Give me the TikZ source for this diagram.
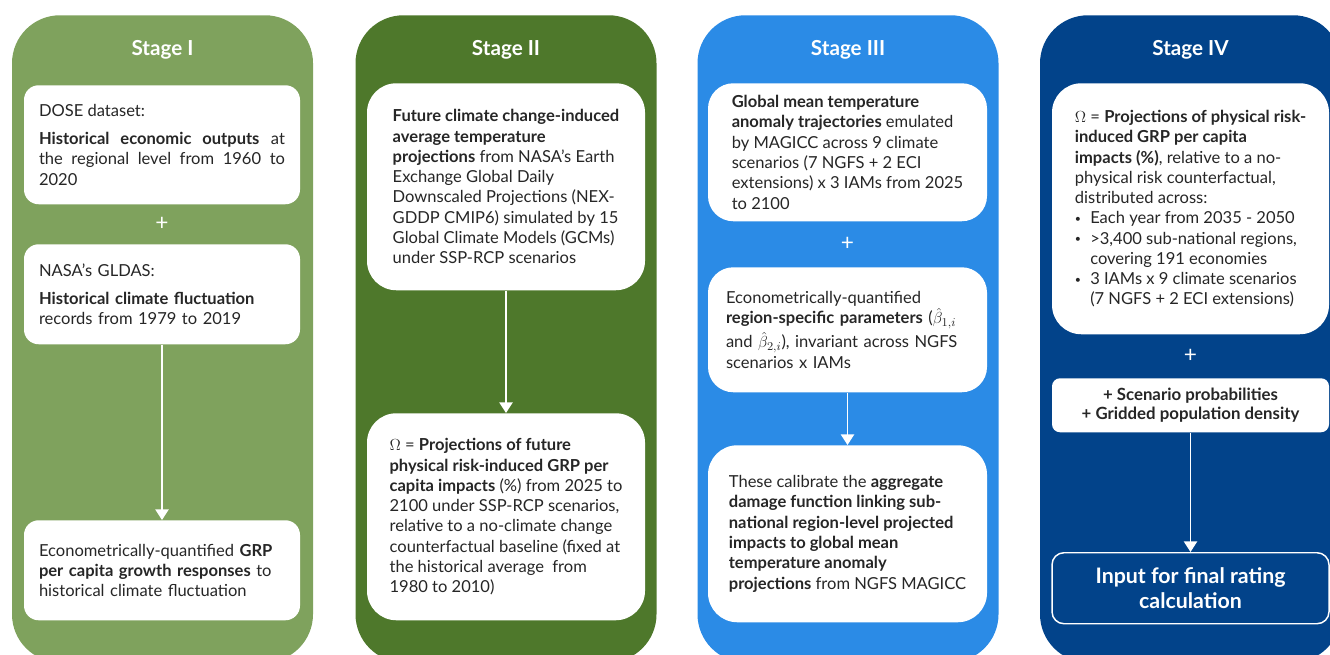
\documentclass[tikz,border=0pt]{standalone}
\usepackage{fontspec}
\setmainfont{Lato}
\usepackage{amsmath}
\usepackage{tikz}
\usetikzlibrary{arrows.meta,positioning,calc}
\definecolor{StageOne}{HTML}{7FA25D}
\definecolor{StageTwo}{HTML}{4E782B}
\definecolor{StageThree}{HTML}{2B8BE6}
\definecolor{StageFour}{HTML}{02438A}
\definecolor{TextGrey}{HTML}{262626}
\newcommand{\listdot}{\makebox[11.5pt][l]{\raisebox{0.15ex}{\fontsize{8}{8}\selectfont\textbullet}}}
\newcommand{\listgap}{\hspace*{11.5pt}}
\tikzset{
  stagecol/.style={rounded corners=36pt, minimum width=301*0.75pt, minimum height=647*0.75pt, anchor=north, inner sep=0pt},
  stagetitle/.style={text=white, font=\fontsize{15.5}{18}\selectfont\bfseries},
  infobox/.style={fill=white, rounded corners=11pt, align=left, inner sep=0pt, anchor=north, text=TextGrey, font=\fontsize{12.4}{15.2}\selectfont},
  stageonebox/.style={infobox, text width=184.5pt, inner xsep=11.25pt},
  plussign/.style={text=white, font=\fontsize{17}{17}\selectfont, inner sep=0pt},
  outputbox/.style={fill=StageFour, draw=white, line width=1.1pt, rounded corners=9pt, align=center, inner sep=0pt, anchor=north, text=white, font=\fontsize{16}{18.75}\selectfont\bfseries},
  arrow/.style={-{Triangle[width=10pt,length=8pt]}, line width=1.1pt, draw=white}
}
\begin{document}
\begin{tikzpicture}[x=0.75pt, y=-0.75pt]
  \useasboundingbox (0,0) rectangle (1330,655);
  \clip (0,0) rectangle (1330,655);
  % stage columns
  \node[stagecol, fill=StageOne] (col1) at (162.5,15) {};
  \node[stagecol, fill=StageTwo] (col2) at (506,15) {};
  \node[stagecol, fill=StageThree] (col3) at (848,15) {};
  \node[stagecol, fill=StageFour] (col4) at (1190.5,15) {};
  \node[stagetitle] (title1) at (162.5,50) {Stage I};
  \node[stagetitle] (title2) at (506,50) {Stage II};
  \node[stagetitle] (title3) at (848,50) {Stage III};
  \node[stagetitle] (title4) at (1190.5,50) {Stage IV};
  % Stage I
  \node[stageonebox, align=justify, minimum height=119*0.75pt] (dose) at (162,85)
    {DOSE dataset:\par\vspace{6pt}\textbf{Historical economic outputs} at\linebreak the regional level from 1960 to\linebreak 2020};
  \node[stageonebox, minimum height=100*0.75pt] (gldas) at (162,244)
    {NASA's GLDAS:\\[6pt]\textbf{Historical climate fluctuation}\\records from 1979 to 2019};
  \node[stageonebox, minimum height=100*0.75pt] (growth) at (162,520)
    {Econometrically-quantified \textbf{GRP}\\\textbf{per capita growth responses} to\\historical climate fluctuation};
  \node[plussign] (plus1) at ($(dose.south)!0.5!(gldas.north)$) {+};
  \draw[arrow] (gldas) -- (growth);
  % Stage II
  \node[infobox, rounded corners=22pt, minimum width=278*0.75pt, minimum height=207*0.75pt] (temp) at (506,83)
    {\textbf{Future climate change-induced}\\\textbf{average temperature}\\\textbf{projections} from NASA's Earth\\Exchange Global Daily\\Downscaled Projections (NEX-\\GDDP CMIP6) simulated by 15\\Global Climate Models (GCMs)\\under SSP-RCP scenarios};
  \node[infobox, rounded corners=22pt, minimum width=278*0.75pt, minimum height=207*0.75pt] (impact) at (506,413)
    {$\Omega$ = \textbf{Projections of future}\\\textbf{physical risk-induced GRP per}\\\textbf{capita impacts} (\%) from 2025 to\\2100 under SSP-RCP scenarios,\\relative to a no-climate change\\counterfactual baseline (fixed at\\the historical average\ \ from\\1980 to 2010)};
  \draw[arrow] (temp) -- (impact);
  % Stage III
  \node[infobox, rounded corners=19pt, minimum width=279*0.75pt, minimum height=138*0.75pt] (gmt) at (847.5,83)
    {\textbf{Global mean temperature}\\\textbf{anomaly trajectories} emulated\\by MAGICC across 9 climate\\scenarios (7 NGFS + 2 ECI\\extensions) x 3 IAMs from 2025\\to 2100};
  \node[infobox, rounded corners=19pt, text width=182.25pt, inner xsep=13.5pt, minimum height=125*0.75pt] (params) at (847.5,267)
    {Econometrically-quantified\\\textbf{region-specific parameters} ($\hat{\beta}_{1,i}$\\[3pt]and $\hat{\beta}_{2,i}$), invariant across NGFS\\scenarios x IAMs};
  \node[infobox, rounded corners=22pt, minimum width=279*0.75pt, minimum height=177*0.75pt] (damage) at (847.5,445)
    {These calibrate the \textbf{aggregate}\\\textbf{damage function linking sub-}\\\textbf{national region-level projected}\\\textbf{impacts to global mean}\\\textbf{temperature anomaly}\\\textbf{projections} from NGFS MAGICC};
  \node[plussign] (plus3) at ($(gmt.south)!0.5!(params.north)$) {+};
  \draw[arrow] (params) -- (damage);
  % Stage IV
  \node[infobox, rounded corners=22pt, minimum width=277*0.75pt, minimum height=251*0.75pt] (omega) at (1190.5,83)
    {$\Omega$ = \textbf{Projections of physical risk-}\\\textbf{induced GRP per capita}\\\textbf{impacts (\%)}, relative to a no-\\physical risk counterfactual,\\distributed across:\\\listdot Each year from 2035 - 2050\\\listdot >3,400 sub-national regions,\\\listgap covering 191 economies\\\listdot 3 IAMs x 9 climate scenarios\\\listgap (7 NGFS + 2 ECI extensions)};
  \node[infobox, rounded corners=6pt, align=center, minimum width=277*0.75pt, minimum height=54*0.75pt, font=\fontsize{12.6}{14.5}\selectfont\bfseries] (extras) at (1190.5,378)
    {+ Scenario probabilities\\+ Gridded population density};
  \node[outputbox, minimum width=277*0.75pt, minimum height=71*0.75pt] (final) at (1190.5,552)
    {Input for final rating\\calculation};
  \node[plussign] (plus4) at ($(omega.south)!0.5!(extras.north)$) {+};
  \draw[arrow] (extras) -- (final);
\end{tikzpicture}
\end{document}
